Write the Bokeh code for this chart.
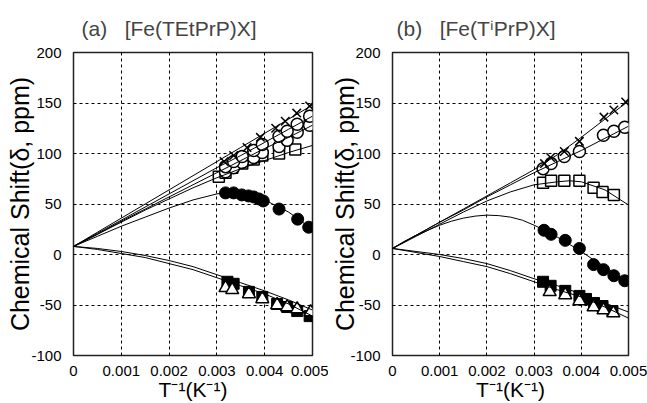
from bokeh.plotting import figure
from bokeh.layouts import row
from bokeh.models import Range1d, FixedTicker, CustomJSTickFormatter
from bokeh.embed import file_html
from bokeh.resources import INLINE

# ---------------- Panel (a) [Fe(TEtPrP)X] ----------------
a_cross_x = [0.00315, 0.00335, 0.00363, 0.00391, 0.00423, 0.00443, 0.00467, 0.00494]
a_cross_y = [92, 98, 106, 116, 125, 132, 140, 147]
a_ocA_x = [0.00318, 0.00335, 0.00353, 0.00377, 0.00395, 0.00430, 0.00447, 0.00468, 0.00494]
a_ocA_y = [87, 92, 97, 103, 109, 117, 122, 129, 137]
a_ocB_x = [0.00318, 0.00335, 0.00353, 0.00377, 0.00395, 0.00430, 0.00447, 0.00468, 0.00494]
a_ocB_y = [82, 86, 91, 96, 101, 107, 113, 121, 128]
a_osq_x = [0.00304, 0.00318, 0.00332, 0.00353, 0.00377, 0.00395, 0.00430, 0.00464]
a_osq_y = [77, 81, 86, 90, 94, 98, 100, 104]
a_fc_x = [0.00318, 0.00335, 0.00352, 0.00366, 0.00377, 0.00388, 0.00397, 0.00430, 0.00469, 0.00492]
a_fc_y = [61, 61, 59, 58, 57, 55, 53, 45, 35, 27]
a_fsq_x = [0.00322, 0.00335, 0.00367, 0.00395, 0.00426, 0.00447, 0.00468, 0.00494]
a_fsq_y = [-27, -29, -37, -42, -49, -52, -56, -61]
a_otr_x = [0.00318, 0.00332, 0.00367, 0.00395, 0.00426, 0.00447, 0.00468, 0.00496]
a_otr_y = [-33, -35, -39, -44, -50, -52, -54, -57]

fit_x = [0, 0.0005, 0.001, 0.0015, 0.002, 0.0025, 0.003, 0.0035, 0.004, 0.0045, 0.005]
a_fit_cross = [8, 22, 36, 50, 64, 78, 92, 106, 120, 134, 148]
a_fit_ocA = [8, 21, 34, 47, 60, 73, 86, 98, 111, 124, 137]
a_fit_ocB = [8, 20, 33, 45, 57, 69, 81, 93, 105, 116, 128]
a_fit_osq = [8, 20, 32, 44, 55, 66, 76, 85, 93, 101, 108]
a_fit_fc_x = [0, 0.0005, 0.001, 0.0015, 0.002, 0.0025, 0.003, 0.00325, 0.0035, 0.004, 0.0045, 0.005]
a_fit_fc = [8, 18, 28, 37, 46, 54, 60, 62, 61, 54, 42, 25]
a_fit_low1 = [8, 6, 3, -1, -6, -12, -20, -28, -36, -45, -55]
a_fit_low2 = [8, 5, 1, -3, -9, -15, -23, -31, -39, -49, -61]

# ---------------- Panel (b) [Fe(TiPrP)X] ----------------
b_cross_x = [0.00322, 0.00335, 0.00364, 0.00396, 0.00448, 0.00469, 0.00494]
b_cross_y = [90, 96, 102, 112, 136, 143, 151]
b_oc_x = [0.00319, 0.00336, 0.00364, 0.00396, 0.00447, 0.00469, 0.00492]
b_oc_y = [85, 90, 97, 102, 118, 122, 126]
b_osq_x = [0.00319, 0.00336, 0.00364, 0.00396, 0.00426, 0.00445, 0.00469]
b_osq_y = [71, 73, 73, 73, 66, 62, 59]
b_fc_x = [0.00321, 0.00336, 0.00366, 0.00396, 0.00426, 0.00447, 0.00469, 0.00492]
b_fc_y = [24, 20, 14, 6, -10, -15, -21, -26]
b_fsq_x = [0.00319, 0.00335, 0.00366, 0.00396, 0.00410, 0.00427, 0.00445, 0.00466]
b_fsq_y = [-27, -31, -36, -41, -44, -48, -51, -56]
b_otr_x = [0.00333, 0.00366, 0.00396, 0.00426, 0.00447, 0.00468]
b_otr_y = [-37, -40, -46, -52, -55, -58]

b_fit_cross = [6, 19, 32, 45, 58, 71, 84, 99, 116, 134, 152]
b_fit_oc = [6, 19, 32, 44, 57, 69, 81, 92, 103, 115, 127]
b_fit_osq_x = [0, 0.0005, 0.001, 0.0015, 0.002, 0.0025, 0.003, 0.0035, 0.00375, 0.004, 0.0045, 0.005]
b_fit_osq = [6, 18, 30, 42, 53, 62, 69, 72, 73, 72, 64, 49]
b_fit_fc_x = [0, 0.00025, 0.0005, 0.00075, 0.001, 0.00125, 0.0015, 0.00175, 0.002, 0.00225,
              0.0025, 0.00275, 0.003, 0.00325, 0.0035, 0.00375, 0.004, 0.00425, 0.0045, 0.00475, 0.005]
b_fit_fc = [6, 13, 19, 24, 29, 33, 36, 38, 39, 38.5, 37, 34, 29, 23.5, 17, 10, 3, -5, -12, -20, -28]
b_fit_low1 = [6, 3, 0, -4, -9, -16, -24, -31, -39, -48, -57]
b_fit_low2 = [6, 2, -2, -7, -12, -19, -27, -35, -42, -52, -63]

x_ticks = [0, 0.001, 0.002, 0.003, 0.004, 0.005]
y_ticks = [-100, -50, 0, 50, 100, 150, 200]

title_a = "(a)\u00a0\u00a0\u00a0[Fe(TEtPrP)X]"
title_b = "(b)\u00a0\u00a0\u00a0[Fe(T\u2071PrP)X]"
x_label = "T\u207b\u00b9(K\u207b\u00b9)"
y_label = "Chemical Shift(\u03b4, ppm)"

FONT = "Liberation Sans"
H = 403


def make_fig(width, left, right, title, title_offset, ylab_standoff):
    p = figure(width=width, height=H, output_backend="svg", toolbar_location=None,
               x_range=Range1d(0, 0.005), y_range=Range1d(-100, 200),
               min_border_left=left, min_border_right=right,
               min_border_top=52, min_border_bottom=48, title=title)
    p.title.text_font = FONT
    p.title.text_font_size = "21px"
    p.title.text_font_style = "normal"
    p.title.align = "left"
    p.title.offset = title_offset
    p.title.standoff = 26
    p.xaxis.ticker = FixedTicker(ticks=x_ticks)
    p.yaxis.ticker = FixedTicker(ticks=y_ticks)
    p.xaxis.formatter = CustomJSTickFormatter(code="return tick == 0 ? '0' : tick.toFixed(3);")
    p.yaxis.formatter = CustomJSTickFormatter(code="return tick.toString();")
    for ax in (p.xaxis[0], p.yaxis[0]):
        ax.axis_line_color = None
        ax.major_tick_line_color = None
        ax.minor_tick_line_color = None
        ax.major_label_text_font = FONT
        ax.major_label_text_font_size = "15px"
        ax.major_label_text_color = "black"
        ax.axis_label_text_font = FONT
        ax.axis_label_text_font_style = "normal"
        ax.axis_label_text_color = "black"
    p.xaxis.axis_label = x_label
    p.xaxis.axis_label_text_font_size = "21px"
    p.xaxis.axis_label_standoff = -1
    p.yaxis.axis_label = y_label
    p.yaxis.axis_label_text_font_size = "25px"
    p.yaxis.axis_label_standoff = ylab_standoff
    p.xaxis.major_label_standoff = 4
    p.yaxis.major_label_standoff = 6
    for g in (p.xgrid[0], p.ygrid[0]):
        g.grid_line_color = "black"
        g.grid_line_dash = "3 3"
        g.grid_line_width = 1
    p.outline_line_color = "#222222"
    p.outline_line_width = 1.5
    p.background_fill_color = "white"
    p.border_fill_color = "white"
    return p


def markers(p, x, y, kind):
    if kind == "x":
        p.scatter(x, y, marker="x", size=12, line_color="black", line_width=1.5)
    elif kind == "oc":
        p.scatter(x, y, marker="circle", size=12, line_color="black", fill_color="white", line_width=1.5)
    elif kind == "fc":
        p.scatter(x, y, marker="circle", size=12, line_color="black", fill_color="black", line_width=1)
    elif kind == "osq":
        p.scatter(x, y, marker="square", size=11, line_color="black", fill_color="white", line_width=1.5)
    elif kind == "fsq":
        p.scatter(x, y, marker="square", size=11, line_color="black", fill_color="black", line_width=1)
    elif kind == "otr":
        p.scatter(x, y, marker="triangle", size=13, line_color="black", fill_color="white", line_width=1.5)


# ---------- figure (a) ----------
pa = make_fig(328, 73, 16, title_a, 8, -6)
markers(pa, a_osq_x, a_osq_y, "osq")
markers(pa, a_ocB_x, a_ocB_y, "oc")
markers(pa, a_ocA_x, a_ocA_y, "oc")
markers(pa, a_cross_x, a_cross_y, "x")
markers(pa, a_fc_x, a_fc_y, "fc")
markers(pa, a_fsq_x, a_fsq_y, "fsq")
markers(pa, a_otr_x, a_otr_y, "otr")
for yy in (a_fit_cross, a_fit_ocA, a_fit_ocB, a_fit_osq, a_fit_low1, a_fit_low2):
    pa.line(fit_x, yy, line_color="black", line_width=1)
pa.line(a_fit_fc_x, a_fit_fc, line_color="black", line_width=1)

# ---------- figure (b) ----------
pb = make_fig(319, 62, 19, title_b, 4, -12)
markers(pb, b_osq_x, b_osq_y, "osq")
markers(pb, b_oc_x, b_oc_y, "oc")
markers(pb, b_cross_x, b_cross_y, "x")
markers(pb, b_fc_x, b_fc_y, "fc")
markers(pb, b_fsq_x, b_fsq_y, "fsq")
markers(pb, b_otr_x, b_otr_y, "otr")
for yy in (b_fit_cross, b_fit_oc, b_fit_low1, b_fit_low2):
    pb.line(fit_x, yy, line_color="black", line_width=1)
pb.line(b_fit_osq_x, b_fit_osq, line_color="black", line_width=1)
pb.line(b_fit_fc_x, b_fit_fc, line_color="black", line_width=1)

layout = row(pa, pb)
open("out.html", "w").write(file_html(layout, INLINE))
